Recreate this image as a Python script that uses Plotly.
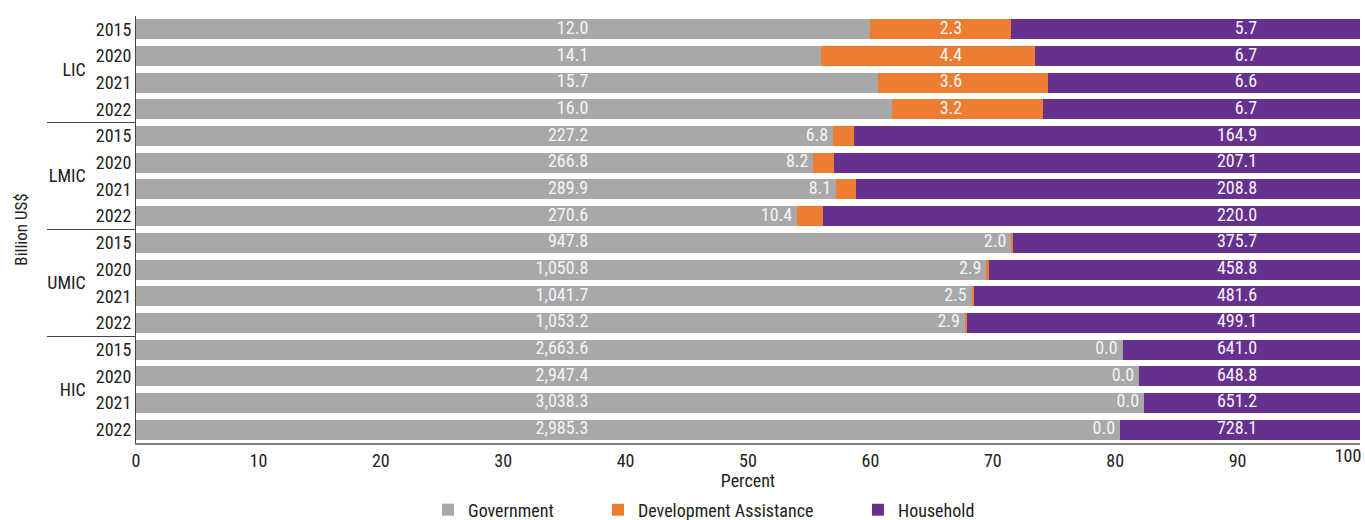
import plotly.graph_objects as go

# ---------------- data ----------------
groups = ["LIC"] * 4 + ["LMIC"] * 4 + ["UMIC"] * 4 + ["HIC"] * 4
years = ["2015", "2020", "2021", "2022"] * 4
government = [12.0, 14.1, 15.7, 16.0,
              227.2, 266.8, 289.9, 270.6,
              947.8, 1050.8, 1041.7, 1053.2,
              2663.6, 2947.4, 3038.3, 2985.3]
development = [2.3, 4.4, 3.6, 3.2,
               6.8, 8.2, 8.1, 10.4,
               2.0, 2.9, 2.5, 2.9,
               0.0, 0.0, 0.0, 0.0]
household = [5.7, 6.7, 6.6, 6.7,
             164.9, 207.1, 208.8, 220.0,
             375.7, 458.8, 481.6, 499.1,
             641.0, 648.8, 651.2, 728.1]
series_names = ["Government", "Development Assistance", "Household"]
x_tick_values = [0, 10, 20, 30, 40, 50, 60, 70, 80, 90]
x_end_tick = [100]

# ---------------- styles ----------------
COLORS = ["#A7A8AA", "#ED7D31", "#66318E"]
FONT = "Roboto Condensed, Roboto, sans-serif"
LABEL_COLOR = "#F4F4F4"
GOV_LABEL_X = 36.95
DEV_LABEL_X = 67.5
HH_LABEL_X = 91.6
NARROW = 5.0
LEGEND_X = [428, 598, 858]  # container px of each legend box
LEGEND_NAMES = ["legend", "legend2", "legend3"]

y_cat = [groups, years]
series_values = [government, development, household]

fig = go.Figure()
for name, vals, col, lg in zip(series_names, series_values, COLORS, LEGEND_NAMES):
    fig.add_trace(go.Bar(
        orientation="h", x=vals, y=y_cat, name=name, legend=lg,
        marker=dict(color=col, line=dict(width=0)),
        hoverinfo="x+y+name",
    ))

totals = [g + d + h for g, d, h in zip(government, development, household)]
gov_pct = [g / t * 100 for g, t in zip(government, totals)]
dev_pct = [d / t * 100 for d, t in zip(development, totals)]

def fmt(v):
    return f"{v:,.1f}"

dev_x = [DEV_LABEL_X if dp >= NARROW else gp - 0.4 for gp, dp in zip(gov_pct, dev_pct)]

# value labels live on the overlay axis x2 (same 0-100 percent scale)
for xs, vals in [([GOV_LABEL_X] * len(government), government),
                 (dev_x, development),
                 ([HH_LABEL_X] * len(household), household)]:
    fig.add_trace(go.Scatter(
        x=xs, y=y_cat, mode="text", text=[fmt(v) for v in vals],
        xaxis="x2", yaxis="y",
        textposition="middle left",
        textfont=dict(family=FONT, size=18, color=LABEL_COLOR),
        showlegend=False, hoverinfo="skip",
    ))

legend_common = dict(orientation="h", xref="container", yref="container",
                     y=10 / 520, xanchor="left", yanchor="middle",
                     font=dict(family=FONT, size=18, color="#222222"),
                     bgcolor="rgba(0,0,0,0)")

fig.update_layout(
    width=1365, height=520,
    barmode="stack", barnorm="percent", bargap=0.25,
    plot_bgcolor="white", paper_bgcolor="white",
    font=dict(family=FONT, size=18, color="#222222"),
    margin=dict(l=136, r=5, t=16, b=77, autoexpand=False),
    showlegend=True,
    legend=dict(legend_common, x=LEGEND_X[0] / 1365),
    legend2=dict(legend_common, x=LEGEND_X[1] / 1365),
    legend3=dict(legend_common, x=LEGEND_X[2] / 1365),
    xaxis=dict(range=[0, 100], tickvals=x_tick_values, showgrid=False,
               zeroline=False, showline=True, linecolor="#7F7F7F", linewidth=2,
               ticks="", ticklabeloverflow="allow",
               title=dict(text="Percent", standoff=2, font=dict(size=18)),
               tickfont=dict(size=18)),
    # end tick "100", nudged left so it stays inside the picture
    xaxis2=dict(overlaying="x", anchor="y", side="bottom", range=[0, 100],
                tickvals=x_end_tick, showgrid=False, zeroline=False,
                showline=False, ticks="", ticklabeloverflow="allow",
                ticklabelshift=-12, tickfont=dict(size=18)),
    yaxis=dict(type="multicategory", autorange=False, range=[15.499, -0.499],
               showgrid=False, zeroline=False, showline=True,
               linecolor="#444444", linewidth=1,
               ticks="", showdividers=True, dividercolor="#444444", dividerwidth=1,
               title=dict(text="Billion US$", font=dict(size=17)),
               tickfont=dict(size=18)),
)

fig.write_html("out.html", config={"displayModeBar": False},
               post_script="document.body.style.margin='0';")
